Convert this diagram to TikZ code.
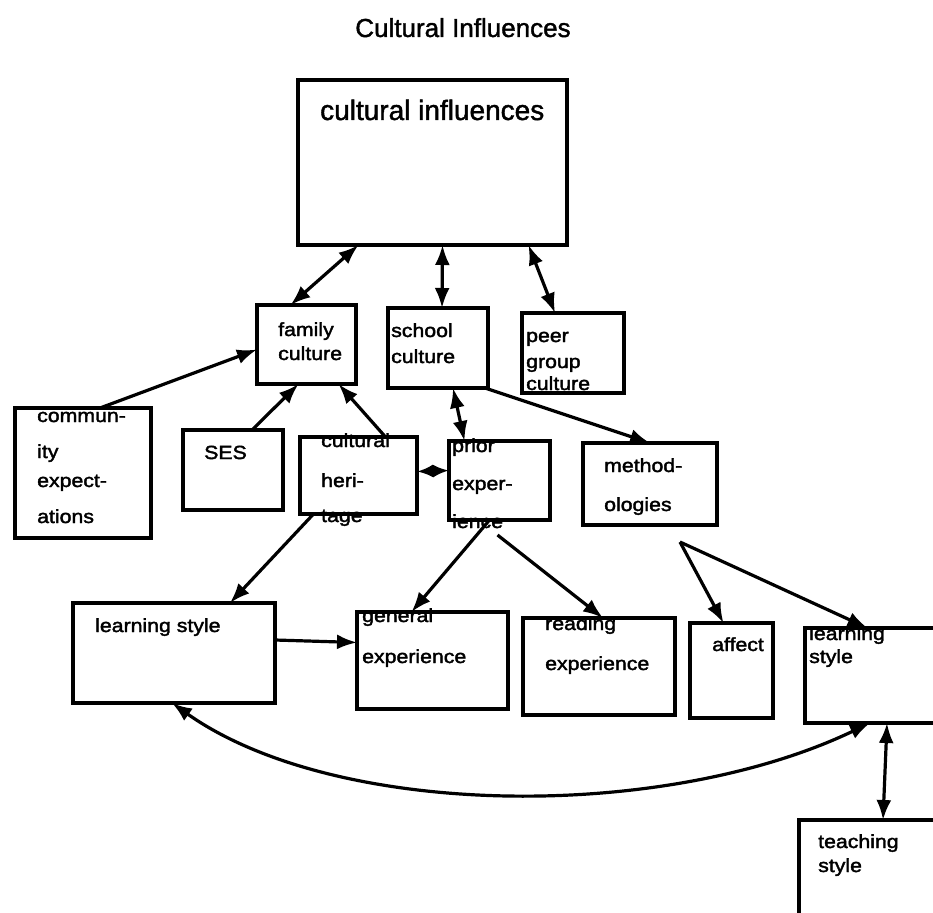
\documentclass[tikz,border=0pt]{standalone}
\usepackage{fontspec}
\setmainfont[FakeBold=1.5]{Liberation Sans}
\newfontfamily\boxfont[FakeStretch=1.12,FakeBold=2]{Liberation Sans}
\usetikzlibrary{arrows.meta}

\begin{document}
\begin{tikzpicture}[x=1pt,y=-1pt,
    >={Latex[length=20pt,width=15pt]},
    box/.style={draw,line width=3.2pt,inner sep=0pt,outer sep=0pt},
    lbl/.style={inner sep=0pt,anchor=base west,align=left,
      font=\boxfont\fontsize{19}{19}\selectfont},
    link/.style={line width=3.2pt}]

        \useasboundingbox (0,0) rectangle (933,912);

        % titel
        \node[anchor=base,inner sep=0pt,font=\fontsize{26}{26}\selectfont] (title) at (463,37) {Cultural Influences};

        % boxes
        \node[box,minimum width=269,minimum height=165] (ci) at (432.5,162.5) {};
        \node[box,minimum width=99,minimum height=79] (fam) at (306.5,344.5) {};
        \node[box,minimum width=100,minimum height=80] (sch) at (438,348) {};
        \node[box,minimum width=102,minimum height=80] (peer) at (573,353) {};
        \node[box,minimum width=136,minimum height=130] (comm) at (83,473) {};
        \node[box,minimum width=100,minimum height=80] (ses) at (233,470) {};
        \node[box,minimum width=117,minimum height=77] (her) at (358.5,475.5) {};
        \node[box,minimum width=101,minimum height=79] (pri) at (499.5,480.5) {};
        \node[box,minimum width=134,minimum height=82] (meth) at (650,484) {};
        \node[box,minimum width=202,minimum height=100] (lsl) at (174,653) {};
        \node[box,minimum width=151,minimum height=97] (gen) at (432.5,660.5) {};
        \node[box,minimum width=152,minimum height=97] (rea) at (599,666.5) {};
        \node[box,minimum width=83,minimum height=95] (aff) at (731.5,670.5) {};
        \node[box,minimum width=155,minimum height=95] (lsr) at (882.5,675.5) {};
        \node[box,minimum width=161,minimum height=110] (tea) at (879.5,875) {};

        % box texts (placed at the baseline of the last line)
        \node[lbl,font=\fontsize{28}{28}\selectfont] (ci-t) at (320,120) {cultural influences};
        \node[lbl] (fam-t) at (278,360) {family\\[5pt]culture};
        \node[lbl] (sch-t) at (391,363) {school\\[7pt]culture};
        \node[lbl] (peer-t) at (526,390) {peer\\[7pt]group\\[3pt]culture};
        \node[lbl] (comm-t) at (37,523) {commun-\\[17pt]ity\\[10pt]expect-\\[17pt]ations};
        \node[lbl] (ses-t) at (204,459) {SES};
        \node[lbl] (her-t) at (321,522) {cultural\\[21pt]heri-\\[16pt]tage};
        \node[lbl] (pri-t) at (452,528) {prior\\[19pt]exper-\\[19pt]ience};
        \node[lbl] (meth-t) at (604,511) {method-\\[20pt]ologies};
        \node[lbl] (lsl-t) at (95,632) {learning style};
        \node[lbl] (gen-t) at (362,663) {general\\[22pt]experience};
        \node[lbl] (rea-t) at (545,670) {reading\\[21pt]experience};
        \node[lbl] (aff-t) at (712,651) {affect};
        \node[lbl] (lsr-t) at (809,663) {learning\\[4pt]style};
        \node[lbl] (tea-t) at (818,872) {teaching\\[5pt]style};

        % two-way links to the top box
        \draw[link,<->] ([xshift=-74pt]ci.south) -- ([xshift=-16pt]fam.north);
        \draw[link,<->] ([xshift=10pt]ci.south) -- ([xshift=4pt]sch.north);
        \draw[link,<->] ([xshift=96pt]ci.south) -- ([xshift=-18pt]peer.north);

        % into family culture
        \draw[link,->] ([xshift=17pt]comm.north) -- ([yshift=-5pt]fam.west);
        \draw[link,->] ([xshift=19pt]ses.north) -- ([xshift=-8pt]fam.south);
        \draw[link,->] ([xshift=27pt]her.north) -- ([xshift=32pt]fam.south);

        % school culture
        \draw[link,<->] ([xshift=15pt]sch.south) -- ([xshift=-35pt]pri.north);
        \draw[link,->] ([xshift=-3pt]sch.south east) -- (meth.north);
        \draw[link,<->,>={Latex[length=16pt,width=13pt]}] ([yshift=4pt]her.east) -- ([yshift=10pt]pri.west);

        % lower row
        \draw[link,->] ([xshift=-45pt]her.south) -- ([xshift=56pt]lsl.north);
        \draw[link,->] ([xshift=-10pt]pri.south) -- ([xshift=-21pt]gen.north);
        \draw[link,->] ([xshift=-2pt,yshift=-15pt]pri.south) -- ([xshift=4pt]rea.north);
        \coordinate (split) at ([xshift=30pt,yshift=-17pt]meth.south);
        \draw[link,->] (split) -- ([xshift=-8pt]aff.north);
        \draw[link,->] (split) -- ([xshift=-15pt]lsr.north);
        \draw[link,->] ([yshift=13pt]lsl.east) -- ([yshift=18pt]gen.west);

        % learning style to learning style, and teaching style
        \draw[link,<->] ([xshift=-2pt]lsl.south) .. controls +(164,116) and +(-207,99) .. ([xshift=-12.5pt]lsr.south);
        \draw[link,<->] ([xshift=4.5pt]lsr.south) -- ([xshift=3.5pt]tea.north);

    \end{tikzpicture}
\end{document}
